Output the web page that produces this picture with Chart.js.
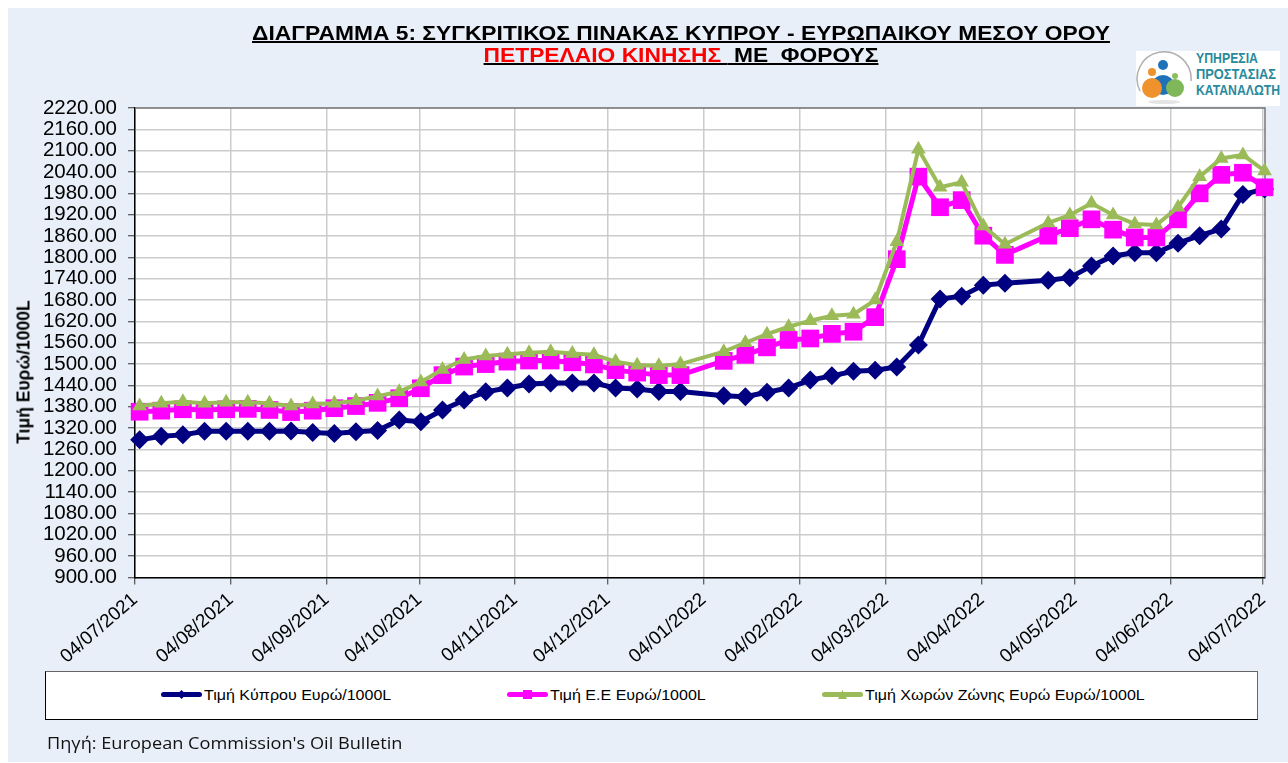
<!DOCTYPE html>
<html lang="el">
<head>
<meta charset="utf-8">
<title>Διάγραμμα 5</title>
<script src="https://cdn.jsdelivr.net/npm/chart.js@4"></script>
<style>
    html, body { margin: 0; padding: 0; background: #fff; }
    #page { position: relative; width: 1288px; height: 763px; overflow: hidden; font-family: "Liberation Sans", Arial, sans-serif; }
    #panel { position: absolute; left: 8px; top: 8px; width: 1280px; height: 754px; background: #e8eff8; }
    #chart { position: absolute; left: 0; top: 0; }
    .title { position: absolute; left: 181px; width: 1000px; text-align: center; font-weight: bold; font-size: 20px; line-height: 22px; color: #000; text-decoration: underline; white-space: pre; transform: scaleX(1.14); }
    #t1 { top: 22px; }
    #t2 { top: 44px; }
    #t2 .red { color: #ff0000; }
    #ylabel { position: absolute; left: 24px; top: 372px; transform: translate(-50%, -50%) rotate(-90deg); font-weight: bold; font-size: 17.5px; white-space: nowrap; color: #000; }
    #legend { position: absolute; left: 45px; top: 671px; width: 1211px; height: 47px; background: #fff; border: 1px solid #000; border-top-color: #666; border-right-color: #666; }
    .item { position: absolute; top: 14px; height: 18px; font-size: 14px; line-height: 18px; white-space: nowrap; color: #000; }
    .sample { position: absolute; left: 0; top: 6px; width: 41px; height: 5px; border-radius: 3px; }
    .dot { position: absolute; left: 16px; top: 4px; width: 9px; height: 9px; }
    .item span { position: absolute; left: 43px; transform: scaleX(1.145); transform-origin: left center; }
    #source { position: absolute; left: 47px; top: 733px; font-family: "Open Sans", sans-serif; font-size: 16px; line-height: 20px; color: #111; white-space: nowrap; transform: scaleX(1.135); transform-origin: left center; }
    #logo { position: absolute; left: 1136px; top: 51px; }
</style>
</head>
<body>
<div id="page">
    <div id="panel"></div>
    <canvas id="chart" width="1288" height="763"></canvas>
    <div class="title" id="t1">ΔΙΑΓΡΑΜΜΑ 5: ΣΥΓΚΡΙΤΙΚΟΣ ΠΙΝΑΚΑΣ ΚΥΠΡΟΥ - ΕΥΡΩΠΑΙΚΟΥ ΜΕΣΟΥ ΟΡΟΥ</div>
    <div class="title" id="t2"><span class="red">ΠΕΤΡΕΛΑΙΟ ΚΙΝΗΣΗΣ </span> ΜΕ  ΦΟΡΟΥΣ</div>
    <div id="ylabel">Τιμή Ευρώ/1000L</div>
    <div id="legend"></div>
    <div id="source">Πηγή: European Commission's Oil Bulletin</div>
    <svg id="logo" width="144" height="55" viewBox="0 0 144 55">
        <rect width="144" height="55" fill="#fff"/>
        <ellipse cx="28" cy="51" rx="16" ry="2" fill="#e4e4e4"/>
        <path d="M4 40 A27 27 0 1 1 55 30" fill="none" stroke="#b0b0b0" stroke-width="1.5"/>
        <circle cx="27" cy="14" r="5" fill="#1f72b8"/>
        <circle cx="16" cy="21" r="4" fill="#f0922b"/>
        <circle cx="39" cy="25" r="3" fill="#8cbf5a"/>
        <ellipse cx="27" cy="34" rx="11" ry="10" fill="#1f72b8"/>
        <circle cx="16" cy="37" r="10" fill="#f0922b"/>
        <circle cx="39" cy="37" r="9" fill="#7fb85a"/>
        <g font-family="'Liberation Sans', Arial, sans-serif" font-size="15" font-weight="bold" fill="#2a8a9c">
            <text x="60" y="12" textLength="62" lengthAdjust="spacingAndGlyphs">ΥΠΗΡΕΣΙΑ</text>
            <text x="60" y="28" textLength="80" lengthAdjust="spacingAndGlyphs">ΠΡΟΣΤΑΣΙΑΣ</text>
            <text x="60" y="44" textLength="84" lengthAdjust="spacingAndGlyphs">ΚΑΤΑΝΑΛΩΤΗ</text>
        </g>
    </svg>
</div>
<script>
// dates of the weekly bulletin (03/01 and 18/04 are missing in the source)
const dates = [
    '05/07/2021', '12/07/2021', '19/07/2021', '26/07/2021', '02/08/2021', '09/08/2021', '16/08/2021', '23/08/2021', '30/08/2021',
    '06/09/2021', '13/09/2021', '20/09/2021', '27/09/2021', '04/10/2021', '11/10/2021', '18/10/2021', '25/10/2021',
    '01/11/2021', '08/11/2021', '15/11/2021', '22/11/2021', '29/11/2021', '06/12/2021', '13/12/2021', '20/12/2021', '27/12/2021',
    '10/01/2022', '17/01/2022', '24/01/2022', '31/01/2022', '07/02/2022', '14/02/2022', '21/02/2022', '28/02/2022',
    '07/03/2022', '14/03/2022', '21/03/2022', '28/03/2022', '04/04/2022', '11/04/2022', '25/04/2022',
    '02/05/2022', '09/05/2022', '16/05/2022', '23/05/2022', '30/05/2022', '06/06/2022', '13/06/2022', '20/06/2022', '27/06/2022', '04/07/2022'
];

const cyprus = [
    1287, 1297, 1301, 1311, 1311, 1311, 1311, 1312, 1308,
    1305, 1310, 1313, 1343, 1338, 1371, 1399, 1422,
    1433, 1444, 1447, 1447, 1447, 1433, 1430, 1423, 1423,
    1411, 1408, 1421, 1433, 1455, 1467, 1480, 1483,
    1492, 1554, 1683, 1691, 1722, 1727, 1736,
    1743, 1776, 1804, 1813, 1813, 1840, 1861, 1880, 1977, 1992
];

const eu = [
    1366, 1369, 1373, 1371, 1373, 1374, 1371, 1365, 1369,
    1376, 1382, 1391, 1404, 1432, 1469, 1493, 1500,
    1507, 1510, 1510, 1505, 1499, 1483, 1476, 1469, 1469,
    1509, 1526, 1547, 1568, 1572, 1585, 1591, 1632,
    1795, 2027, 1941, 1961, 1861, 1807, 1861,
    1882, 1907, 1878, 1856, 1856, 1907, 1980, 2032, 2038, 1997
];

const eurozone = [
    1382, 1390, 1394, 1390, 1393, 1393, 1390, 1382, 1388,
    1390, 1397, 1410, 1422, 1450, 1485, 1513, 1523,
    1528, 1532, 1535, 1530, 1526, 1507, 1497, 1495, 1500,
    1535, 1560, 1584, 1605, 1622, 1636, 1640, 1680,
    1844, 2104, 1997, 2011, 1888, 1837, 1897,
    1919, 1952, 1919, 1894, 1891, 1941, 2027, 2078, 2088, 2043
];

const xTicks = [
    '04/07/2021', '04/08/2021', '04/09/2021', '04/10/2021', '04/11/2021', '04/12/2021',
    '04/01/2022', '04/02/2022', '04/03/2022', '04/04/2022', '04/05/2022', '04/06/2022', '04/07/2022'
];

const seriesNames = ['Τιμή Κύπρου Ευρώ/1000L', 'Τιμή Ε.Ε Ευρώ/1000L', 'Τιμή Χωρών Ζώνης Ευρώ Ευρώ/1000L'];
const seriesColors = ['#000080', '#ff00ff', '#9bbb59'];
const legendLeft = [115, 461, 776];

// day number from dd/mm/yyyy, no date adapter available
function dayOf(s) {
    const p = s.split('/');
    return Date.UTC(+p[2], +p[1] - 1, +p[0]) / 86400000;
}

// points sit in the middle of their day slot, ticks on its left edge
function points(values) {
    return values.map((v, i) => ({ x: dayOf(dates[i]) + 0.5, y: v }));
}

// white plot area and grey frame
const plotFrame = {
    id: 'plotFrame',
    beforeDraw(chart) {
        const a = chart.chartArea;
        chart.ctx.fillStyle = '#fff';
        chart.ctx.fillRect(a.left, a.top, a.width, a.height);
    },
    beforeDatasetsDraw(chart) {
        const a = chart.chartArea;
        const ctx = chart.ctx;
        ctx.save();
        ctx.strokeStyle = '#777';
        ctx.lineWidth = 1.5;
        ctx.beginPath();
        ctx.moveTo(a.left, a.top);
        ctx.lineTo(a.right, a.top);
        ctx.lineTo(a.right, a.bottom);
        ctx.stroke();
        ctx.restore();
    }
};

new Chart(document.getElementById('chart').getContext('2d'), {
    type: 'line',
    plugins: [plotFrame],
    data: {
        datasets: [
            {
                label: seriesNames[0],
                data: points(cyprus),
                borderColor: seriesColors[0],
                backgroundColor: seriesColors[0],
                borderWidth: 5,
                pointStyle: 'rectRot',
                pointRadius: 9.5,
                pointBorderWidth: 0,
                order: 3,
                clip: false
            },
            {
                label: seriesNames[1],
                data: points(eu),
                borderColor: seriesColors[1],
                backgroundColor: seriesColors[1],
                borderWidth: 5,
                pointStyle: 'rect',
                pointRadius: 12.5,
                pointBorderWidth: 0,
                order: 2,
                clip: false
            },
            {
                label: seriesNames[2],
                data: points(eurozone),
                borderColor: seriesColors[2],
                backgroundColor: seriesColors[2],
                borderWidth: 4,
                pointStyle: 'triangle',
                pointRadius: 8.5,
                pointBorderWidth: 0,
                order: 1,
                clip: false
            }
        ]
    },
    options: {
        responsive: false,
        animation: false,
        layout: { padding: { left: 0, top: 108, right: 23, bottom: 0 } },
        plugins: { legend: { display: false }, title: { display: false }, tooltip: { enabled: false } },
        scales: {
            x: {
                type: 'linear',
                min: dayOf(xTicks[0]),
                max: dayOf(xTicks[xTicks.length - 1]) + 0.65,
                afterBuildTicks: scale => { scale.ticks = xTicks.map(d => ({ value: dayOf(d) })); },
                afterFit: scale => { scale.height = 185.5; },
                grid: { color: '#cccccc', lineWidth: 1.5, tickColor: '#333', tickLength: 7, tickWidth: 1 },
                border: { color: '#000', width: 1.5 },
                ticks: {
                    autoSkip: false,
                    minRotation: 41,
                    maxRotation: 41,
                    padding: 4,
                    color: '#000',
                    font: { family: '"Liberation Sans", Arial, sans-serif', size: 19 },
                    callback: (v, i) => xTicks[i]
                }
            },
            y: {
                min: 900,
                max: 2220,
                afterFit: scale => { scale.width = 135; },
                grid: { color: '#cccccc', lineWidth: 1.5, tickColor: '#333', tickLength: 7, tickWidth: 1 },
                border: { color: '#000', width: 1.5 },
                ticks: {
                    stepSize: 60,
                    autoSkip: false,
                    padding: 11,
                    color: '#000',
                    font: { family: '"Liberation Sans", Arial, sans-serif', size: 20.5 },
                    callback: v => v.toFixed(2)
                }
            }
        }
    }
});

// legend box under the chart, line sample with small marker
const legendBox = document.getElementById('legend');
seriesNames.forEach((name, i) => {
    const item = document.createElement('div');
    item.className = 'item';
    item.style.left = legendLeft[i] + 'px';
    const shape = ['transform:rotate(45deg) scale(.7);', '', 'clip-path:polygon(50% 0,100% 100%,0 100%);'][i];
    item.innerHTML = `
        <div class="sample" style="background:${seriesColors[i]}"></div>
        <div class="dot" style="background:${seriesColors[i]};${shape}"></div>
        <span>${name}</span>`;
    legendBox.appendChild(item);
});
</script>
</body>
</html>
